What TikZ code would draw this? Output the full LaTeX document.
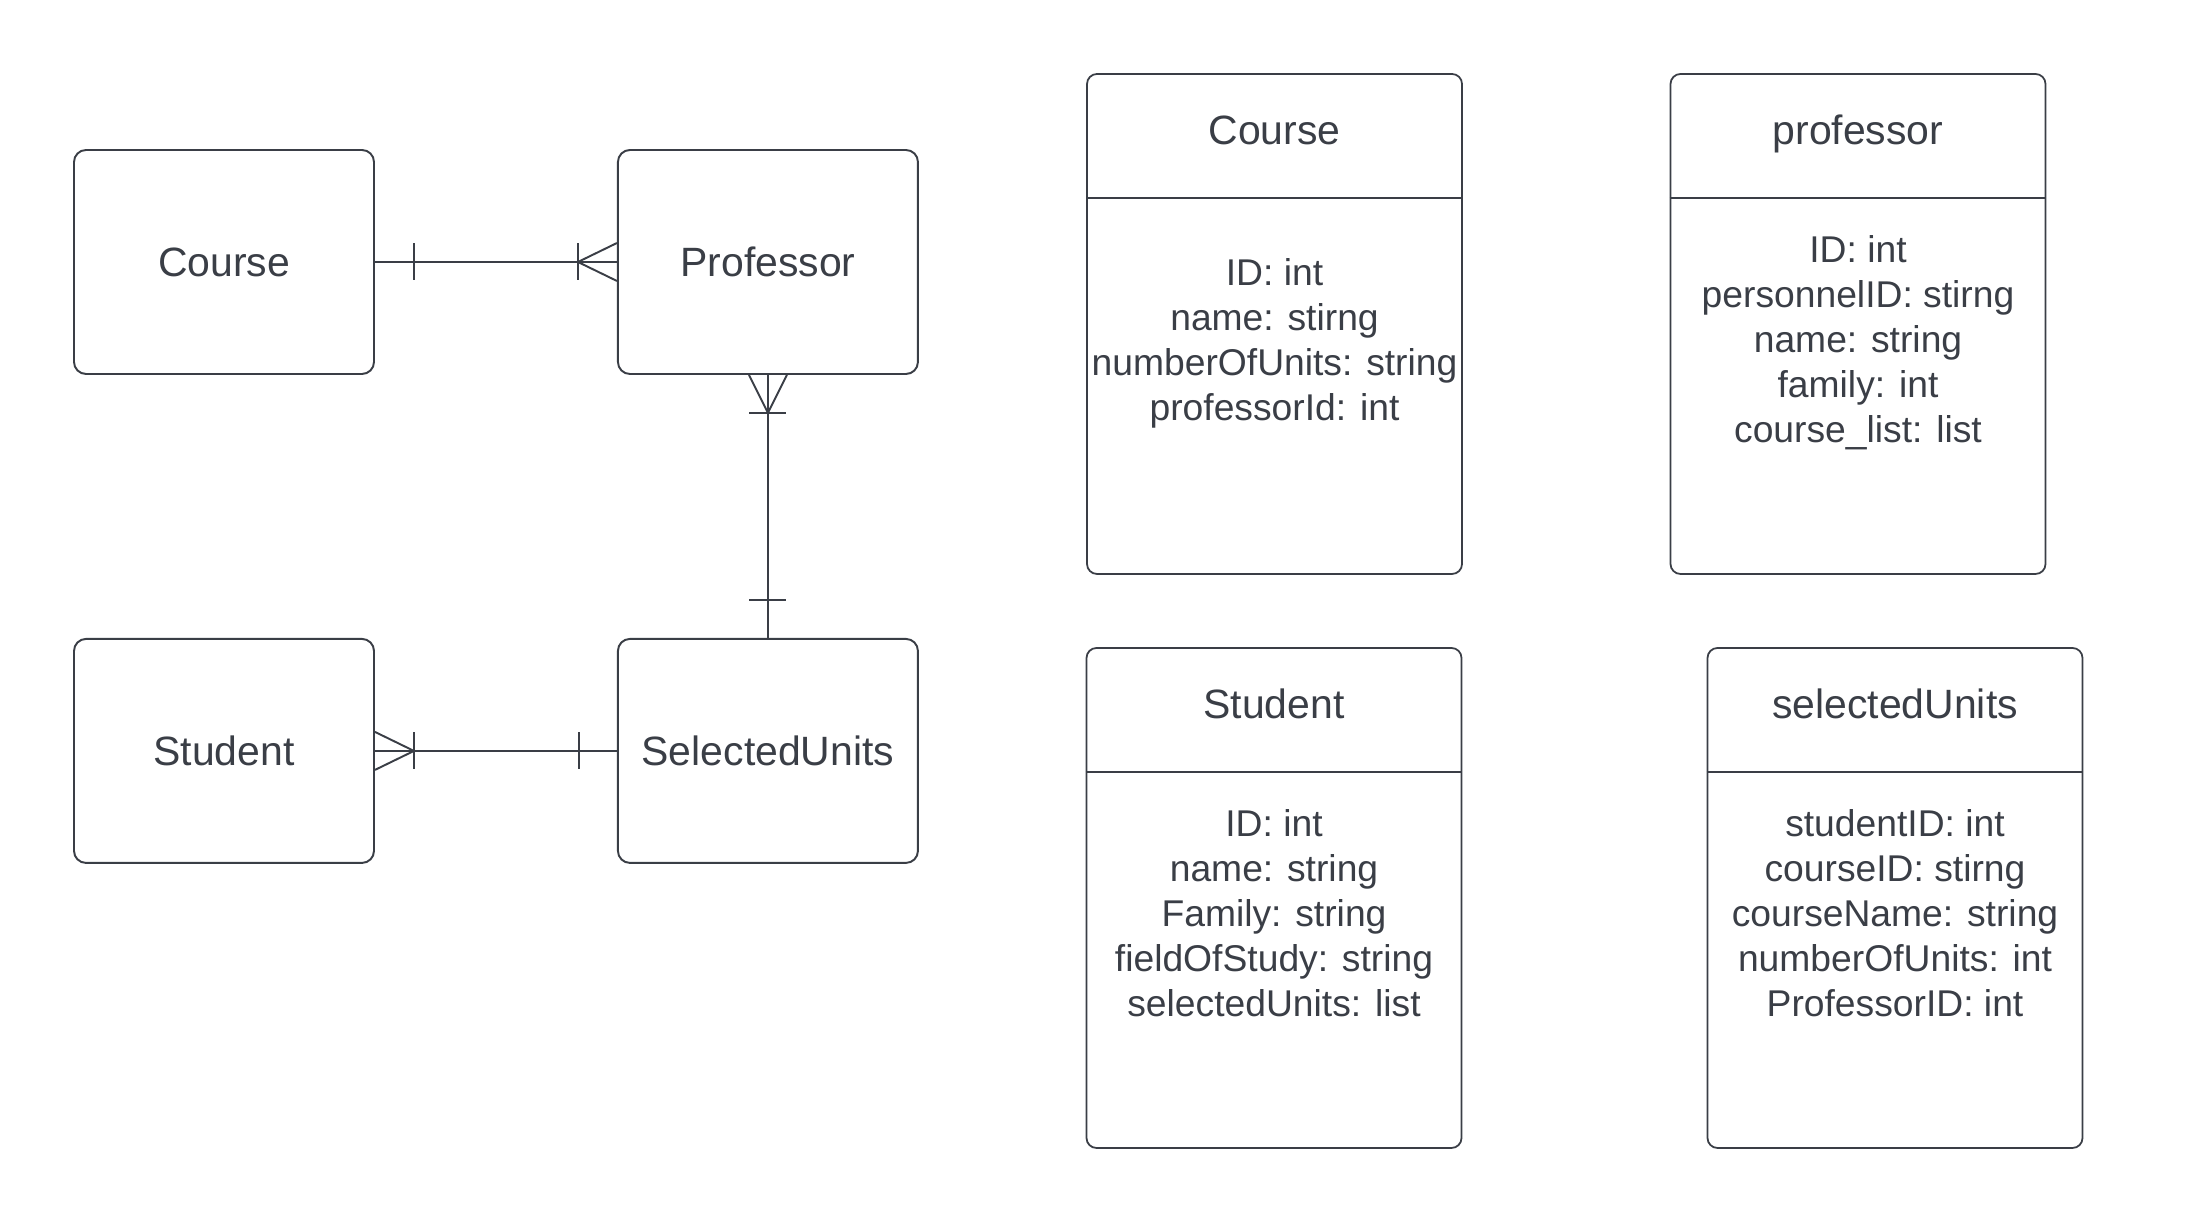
\documentclass[tikz,border=0pt]{standalone}
\usepackage{fontspec}
\setmainfont{Liberation Sans}
\usetikzlibrary{positioning,calc}
\definecolor{ink}{RGB}{58,62,70}

\begin{document}
\begin{tikzpicture}[
  entity/.style={draw=ink, line width=1.1pt, rounded corners=0.24cm, minimum width=6cm, minimum height=4.48cm, inner sep=0pt, text=ink, font=\fontsize{23.3}{28}\selectfont},
  tbl/.style={draw=ink, line width=1pt, rounded corners=0.2cm, minimum width=7.5cm, minimum height=10cm, inner sep=0pt},
  tabhead/.style={anchor=base, inner sep=0pt, text=ink, font=\fontsize{23.3}{28}\selectfont},
  attrs/.style={anchor=base, align=center, inner sep=0pt, text=ink, font=\fontsize{21.2}{25.6}\selectfont},
  rel/.style={draw=ink, line width=1.1pt},
]
  \useasboundingbox (0,0) rectangle (43.92,24.48);

  \node[entity] (course) at (4.48,19.24) {Course};
  \node[entity, right=4.84cm of course] (prof) {Professor};
  \node[entity, below=5.26cm of course] (student) {Student};
  \node[entity, right=4.84cm of student] (sel) {SelectedUnits};

  \draw[rel] (course) -- (prof);
  \draw[rel] ([xshift=0.78cm]course.east) ++(0,0.37) -- ++(0,-0.74);
  \draw[rel] ([yshift=0.38cm]prof.west) -- ([xshift=-0.78cm]prof.west) -- ([yshift=-0.38cm]prof.west);
  \draw[rel] ([xshift=-0.78cm]prof.west) ++(0,0.37) -- ++(0,-0.74);

  \draw[rel] (prof) -- (sel);
  \draw[rel] ([xshift=-0.38cm]prof.south) -- ([yshift=-0.76cm]prof.south) -- ([xshift=0.38cm]prof.south);
  \draw[rel] ([yshift=-0.76cm]prof.south) ++(-0.37,0) -- ++(0.74,0);
  \draw[rel] ([yshift=0.76cm]sel.north) ++(-0.37,0) -- ++(0.74,0);

  \draw[rel, line width=0.7pt] (student) -- (sel);
  \draw[rel] ([yshift=0.38cm]student.east) -- ([xshift=0.78cm]student.east) -- ([yshift=-0.38cm]student.east);
  \draw[rel] ([xshift=0.78cm]student.east) ++(0,0.37) -- ++(0,-0.74);
  \draw[rel] ([xshift=-0.76cm]sel.west) ++(0,0.37) -- ++(0,-0.74);

  \node[tbl] (tcourse) at (25.49,18) {};
  \draw[rel, line width=1pt] ([yshift=-2.5cm]tcourse.north west) -- ([yshift=-2.5cm]tcourse.north east);
  \node[tabhead] (tcoursehead) at ([yshift=-1.42cm]tcourse.north) {Course};
  \node[attrs] (tcourseattr) at ([yshift=-6.94cm]tcourse.north) {ID: int\\name: stirng\\numberOfUnits: string\\professorId: int};

  \node[tbl] (tprof) at (37.16,18) {};
  \draw[rel, line width=1pt] ([yshift=-2.5cm]tprof.north west) -- ([yshift=-2.5cm]tprof.north east);
  \node[tabhead] (tprofhead) at ([yshift=-1.42cm]tprof.north) {professor};
  \node[attrs] (tprofattr) at ([yshift=-7.38cm]tprof.north) {ID: int\\personnelID: stirng\\name: string\\family: int\\course\_list: list};

  \node[tbl] (tstudent) at (25.48,6.52) {};
  \draw[rel, line width=1pt] ([yshift=-2.5cm]tstudent.north west) -- ([yshift=-2.5cm]tstudent.north east);
  \node[tabhead] (tstudenthead) at ([yshift=-1.42cm]tstudent.north) {Student};
  \node[attrs] (tstudentattr) at ([yshift=-7.38cm]tstudent.north) {ID: int\\name: string\\Family: string\\fieldOfStudy: string\\selectedUnits: list};

  \node[tbl] (tsel) at (37.9,6.52) {};
  \draw[rel, line width=1pt] ([yshift=-2.5cm]tsel.north west) -- ([yshift=-2.5cm]tsel.north east);
  \node[tabhead] (tselhead) at ([yshift=-1.42cm]tsel.north) {selectedUnits};
  \node[attrs] (tselattr) at ([yshift=-7.38cm]tsel.north) {studentID: int\\courseID: stirng\\courseName: string\\numberOfUnits: int\\ProfessorID: int};
\end{tikzpicture}
\end{document}
